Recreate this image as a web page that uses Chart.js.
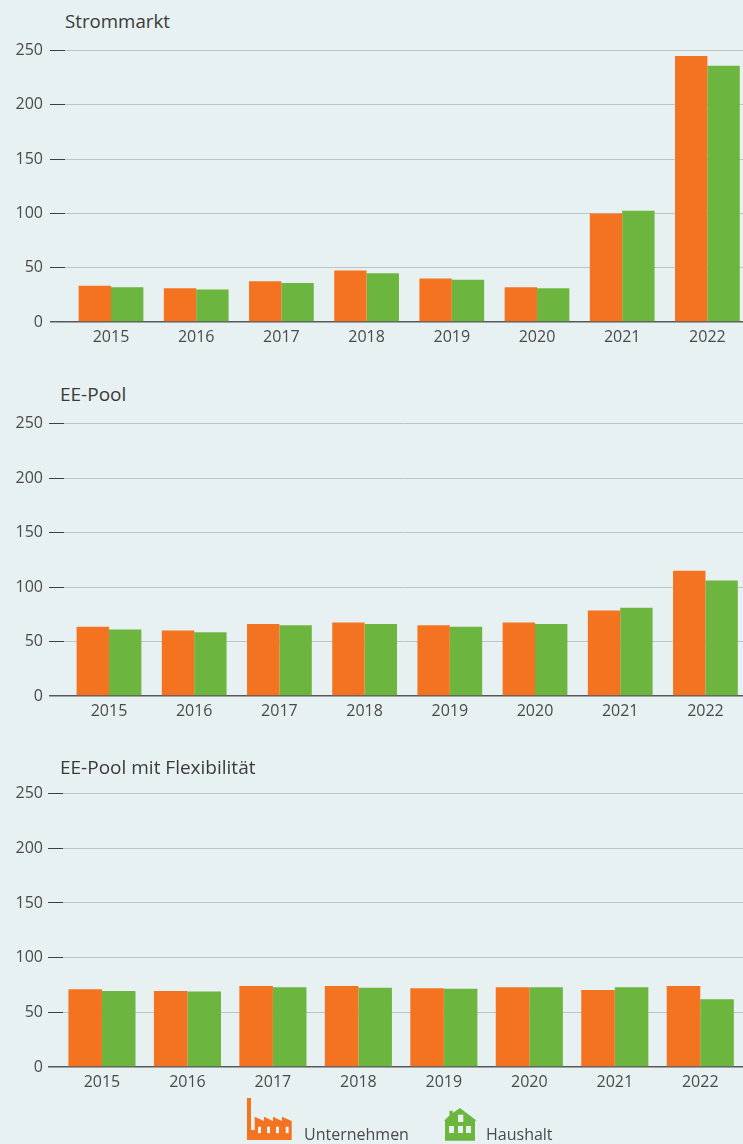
<!DOCTYPE html>
<html lang="de">
<head>
<meta charset="utf-8">
<title>Strommarkt, EE-Pool, EE-Pool mit Flexibilität</title>
<script src="https://cdn.jsdelivr.net/npm/chart.js@4"></script>
<style>
  html, body { margin: 0; padding: 0; }
  body { position: relative; width: 743px; height: 1144px; overflow: hidden; background: #e8f1f2; font-family: "Open Sans", sans-serif; color: #444; }
  canvas { position: absolute; left: 0; }
  .titel { position: absolute; font-size: 19px; line-height: 20px; color: #3a3a3a; white-space: nowrap; }
  .legende { position: absolute; font-size: 16px; line-height: 20px; color: #4a4a4a; white-space: nowrap; }
  svg { position: absolute; }
</style>
</head>
<body>
<canvas id="chart-strommarkt"></canvas>
<canvas id="chart-eepool"></canvas>
<canvas id="chart-flex"></canvas>

<div class="titel" style="left:65px;top:11px;font-size:18.7px">Strommarkt</div>
<div class="titel" style="left:60px;top:384px">EE-Pool</div>
<div class="titel" style="left:60px;top:757px">EE-Pool mit Flexibilität</div>

<svg style="left:247px;top:1098px" width="45" height="42" viewBox="0 0 45 42">
  <path fill="#f47321" d="M0 42V0H4V32H7.7V18.7L17 23V18.7L26 23V18.7L35 23V18.7L44.7 23V42Z"/>
  <g fill="#e8f1f2">
    <rect x="11" y="28.7" width="3" height="6.5"/>
    <rect x="20" y="28.7" width="3" height="6.5"/>
    <rect x="29" y="28.7" width="3" height="6.5"/>
    <rect x="38.7" y="28.7" width="3" height="6.5"/>
  </g>
</svg>
<div class="legende" style="left:304px;top:1124px">Unternehmen</div>

<svg style="left:444px;top:1108px" width="33" height="33" viewBox="0 0 33 33">
  <path fill="#6cb53f" d="M16 0L32.7 12.7H31V32.7H1V12.7H0L5.5 7.5V2.7H8.7V5Z"/>
  <g fill="#e8f1f2">
    <rect x="14" y="6.7" width="5.3" height="7.3"/>
    <rect x="5" y="18" width="5" height="7"/>
    <rect x="14" y="18" width="5" height="7"/>
    <rect x="22" y="18" width="5" height="7"/>
  </g>
</svg>
<div class="legende" style="left:486px;top:1124px">Haushalt</div>

<script>
const kategorien = ["2015", "2016", "2017", "2018", "2019", "2020", "2021", "2022"];
const yTicks = [0, 50, 100, 150, 200, 250];

const stromUnternehmen = [33.5, 31, 37.5, 47.5, 40, 32, 100, 245];
const stromHaushalt = [32, 30, 36, 45, 39, 31, 102.5, 236];
const poolUnternehmen = [63.5, 60, 66, 67.5, 65, 67.5, 78.5, 115];
const poolHaushalt = [61, 58.5, 65, 66, 63.5, 66, 81, 106];
const flexUnternehmen = [71, 69.5, 74, 74, 72, 73, 70.5, 74];
const flexHaushalt = [69.5, 69, 73, 72.5, 71.5, 73, 73, 62];

const ORANGE = "#f47321";
const GRUEN = "#6cb53f";
const HOEHE = 323; // Canvas-Hoehe: 15 oben, 273 Plot, 35 unten

function punkte(werte) {
  return werte.map((v, i) => ({ x: i, y: v }));
}

// x-Achse ist linear, weil die Balken nicht mittig zum Gitter sitzen
function zeichneChart(id, top, links, xMin, xMax, breite, unternehmen, haushalt) {
  const canvas = document.getElementById(id);
  canvas.style.top = top + "px";
  canvas.width = 743;
  canvas.height = HOEHE;

  new Chart(canvas.getContext("2d"), {
    type: "bar",
    data: {
      datasets: [
        { label: "Unternehmen", data: punkte(unternehmen), backgroundColor: ORANGE },
        { label: "Haushalt", data: punkte(haushalt), backgroundColor: GRUEN },
      ],
    },
    options: {
      responsive: false,
      animation: false,
      layout: { padding: { top: 0, left: 0, right: 0, bottom: 0 } },
      categoryPercentage: breite,
      barPercentage: 1,
      plugins: { legend: { display: false }, title: { display: false }, tooltip: { enabled: false } },
      scales: {
        x: {
          type: "linear",
          offset: false,
          min: xMin,
          max: xMax,
          grid: { display: false, drawTicks: false },
          border: { display: false },
          afterFit: (s) => { s.height = 35; },
          afterBuildTicks: (s) => {
            s.ticks = kategorien.map((k, i) => ({ value: i }));
          },
          ticks: {
            autoSkip: false,
            maxRotation: 0,
            padding: 6,
            color: "#4a4a4a",
            font: { family: "Open Sans", size: 16 },
            callback: (v) => kategorien[v],
          },
        },
        y: {
          min: 0,
          max: 250,
          afterFit: (s) => { s.width = links; },
          afterBuildTicks: (s) => {
            s.ticks = yTicks.map((v) => ({ value: v }));
          },
          border: { display: false },
          grid: {
            color: (c) => (c.tick.value === 0 ? "#55595b" : "#bcc4c6"),
            lineWidth: (c) => (c.tick.value === 0 ? 1.5 : 1),
            tickColor: (c) => (c.tick.value === 0 ? "#55595b" : "#3f3f3f"),
            tickLength: 15,
          },
          ticks: {
            padding: links - 58,
            color: "#4a4a4a",
            font: { family: "Open Sans", size: 16 },
          },
        },
      },
    },
  });
}

zeichneChart("chart-strommarkt", 34, 65, -0.54, 7.418, 0.76, stromUnternehmen, stromHaushalt);
zeichneChart("chart-eepool", 408, 64, -0.528, 7.441, 0.76, poolUnternehmen, poolHaushalt);
zeichneChart("chart-flex", 779, 63, -0.456, 7.5, 0.785, flexUnternehmen, flexHaushalt);
</script>
</body>
</html>
